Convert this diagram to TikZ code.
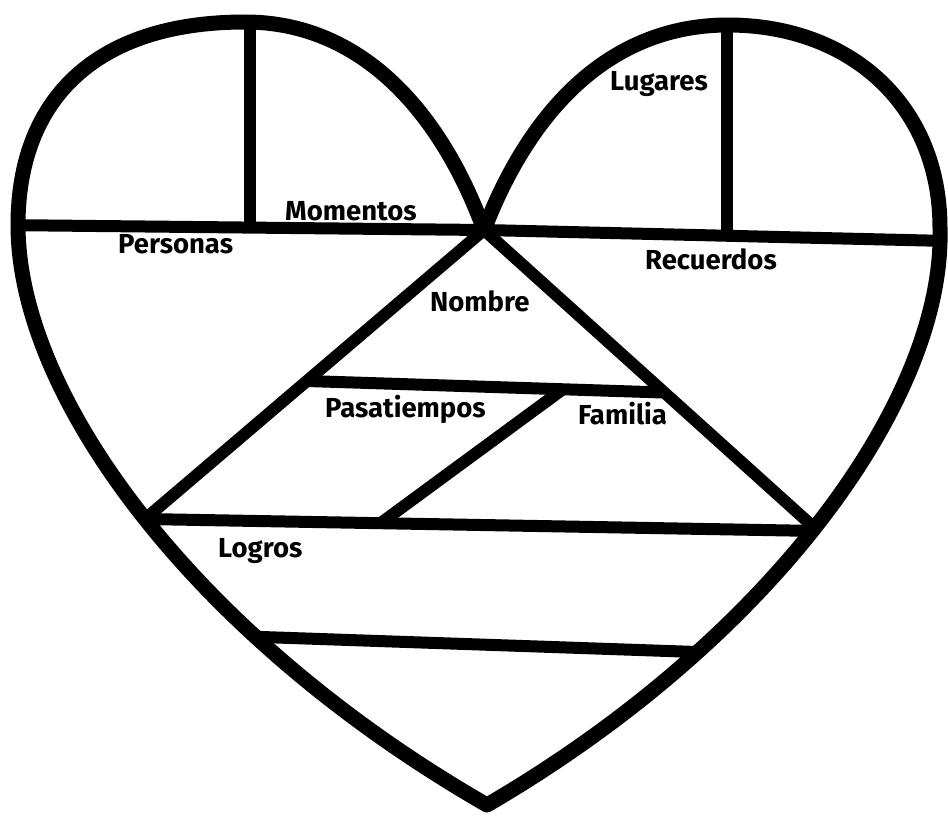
\documentclass[tikz,border=0pt]{standalone}
\usepackage{fontspec}
\setmainfont{Fira Sans}
\usetikzlibrary{calc}
\begin{document}
\begin{tikzpicture}[x=1pt,y=-1pt,
  outline/.style={line width=15pt,line join=round,draw=black},
  divider/.style={line width=12pt,line cap=butt,draw=black},
  lbl/.style={anchor=base west,inner sep=0pt,font=\fontsize{27.5}{30}\selectfont\bfseries}]
\useasboundingbox[fill=white] (0,0) rectangle (948,816);
% key points of the heart
\coordinate (C) at (484,230);
\coordinate (Tip) at (487,805);
\coordinate (LT) at (245,22);
\coordinate (LW) at (18,225);
\coordinate (RT) at (728,25);
\coordinate (RE) at (940,228);
% points of the dividers
\coordinate (L) at (145,519);
\coordinate (R) at (818,531);
\coordinate (HL) at (0,225);
\coordinate (HR) at (948,241);
\coordinate (VL1) at (250,0);
\coordinate (VL2) at (250,228);
\coordinate (VR1) at (727,0);
\coordinate (VR2) at (727,236);
\coordinate (N1) at ($(C)!0.5225!(L)$);
\coordinate (N2) at ($(C)!0.54!(R)$);
\coordinate (D1) at ($(N1)!0.716!(N2)$);
\coordinate (D2) at ($(L)!0.35!(R)$);
\coordinate (B1) at (262,637);
\coordinate (B2) at (697,652);
\def\heartpath{(C) .. controls (440,110) and (360,22) .. (LT)
  .. controls (95,22) and (18,100) .. (LW)
  .. controls (18,400) and (200,640) .. (Tip)
  .. controls (770,640) and (945,400) .. (RE)
  .. controls (940,105) and (850,25) .. (RT)
  .. controls (610,25) and (530,110) .. (C) -- cycle}
\begin{scope}
  \clip \heartpath;
  \draw[divider] (HL) -- (C) -- (HR);
  \draw[divider] (VL1) -- (VL2);
  \draw[divider] (VR1) -- (VR2);
  \draw[divider,line join=miter] ($(C)!1.1!(L)$) -- (C) -- ($(C)!1.1!(R)$);
  \draw[divider] ($(L)!-0.1!(R)$) -- ($(R)!-0.1!(L)$);
  \draw[divider] (N1) -- (N2);
  \draw[divider] ($(D1)!-0.005!(D2)$) -- ($(D2)!-0.005!(D1)$);
  \draw[divider] ($(B1)!-0.1!(B2)$) -- ($(B2)!-0.1!(B1)$);
\end{scope}
\draw[outline] \heartpath;
% labels
\node[lbl] (lugares) at (610,90) {Lugares};
\node[lbl] (momentos) at (285,220) {Momentos};
\node[lbl] (personas) at (118,253) {Personas};
\node[lbl] (recuerdos) at (645,269) {Recuerdos};
\node[lbl] (nombre) at (430,311) {Nombre};
\node[lbl] (pasatiempos) at (325,417) {Pasatiempos};
\node[lbl] (familia) at (578,424) {Familia};
\node[lbl] (logros) at (218,557) {Logros};
\end{tikzpicture}
\end{document}
